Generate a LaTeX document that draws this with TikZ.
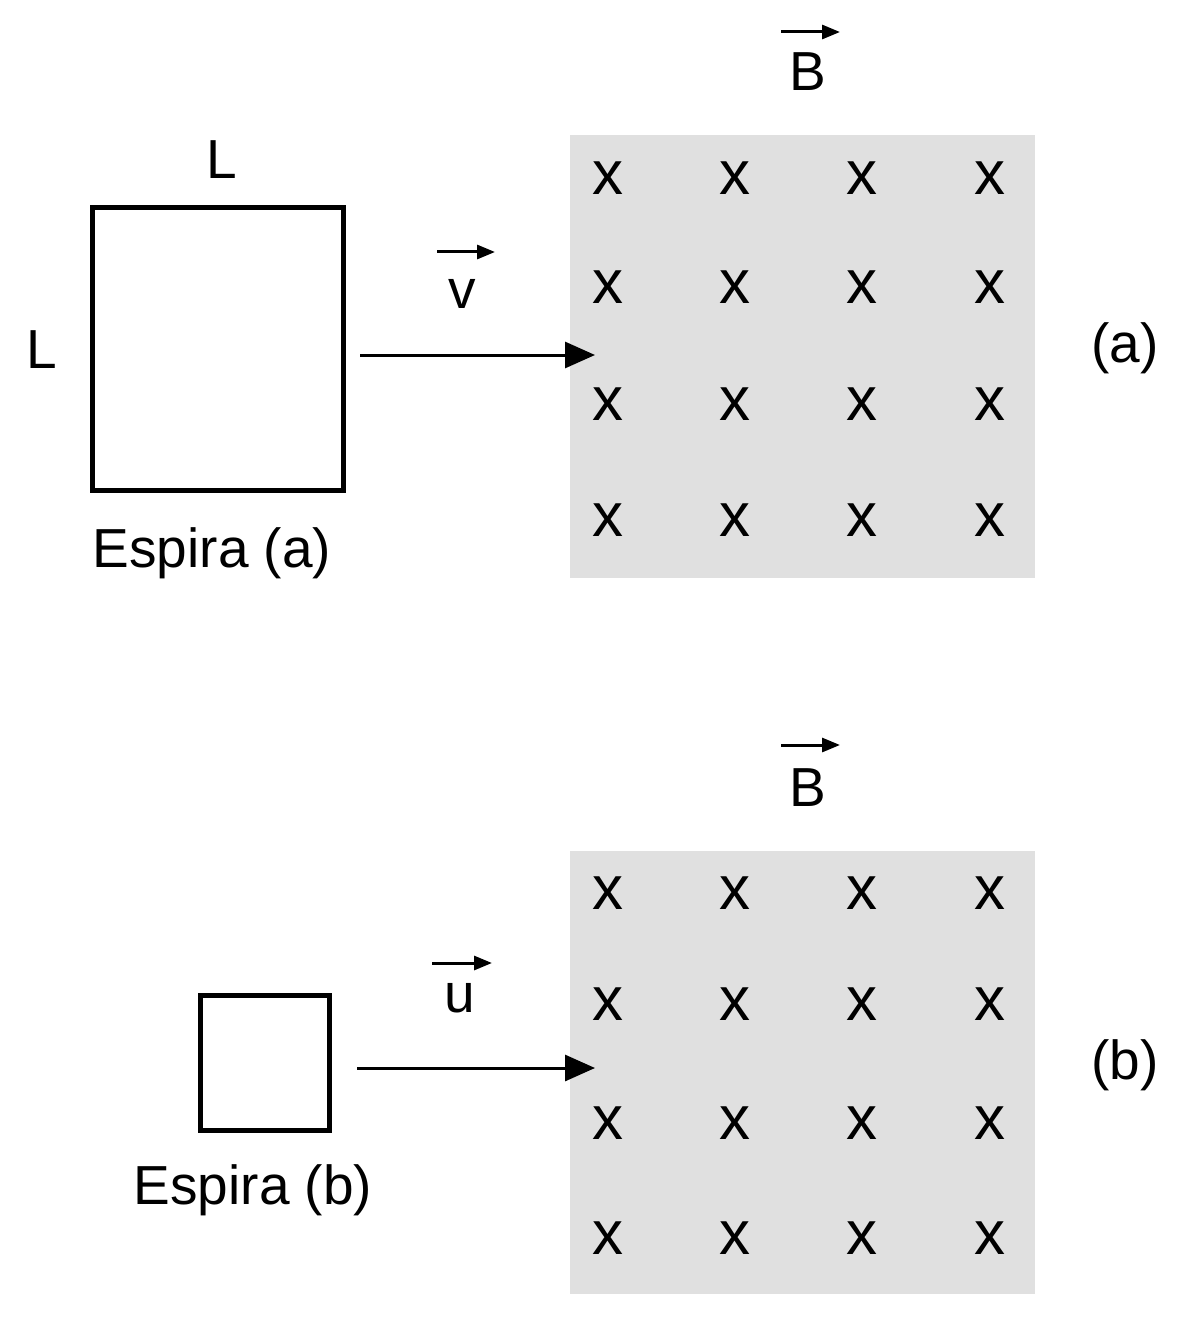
\documentclass[tikz,border=0pt]{standalone}
\usepackage{fontspec}
\setmainfont{Liberation Sans}
\usetikzlibrary{arrows.meta}
\begin{document}
\begin{tikzpicture}[x=1pt,y=-1pt,
  lab/.style={font=\fontsize{55}{57}\selectfont},
  cross/.style={font=\fontsize{62}{64}\selectfont},
  loop/.style={line width=5pt},
  vel/.style={line width=3pt,-{Triangle[length=30pt,width=26pt]}},
  vec/.style={line width=3pt,-{Triangle[length=18pt,width=14pt]}},
  field/.style={fill=black!12,draw=none}]
\useasboundingbox (0,0) rectangle (1188,1324);
% (a)
\draw[loop] (92,208) rectangle (343,490);
\node[lab] (La) at (222,160) {L};
\node[lab] (Lb) at (42,350) {L};
\node[lab] (ea) at (212,553) {Espira (a)};
\fill[field] (570,135) rectangle (1035,578);
\foreach \x in {608,735,862,990}\foreach \y in {178,287,404,520}{\node[cross] at (\x,\y) {x};}
\coordinate (a1) at (360,355); \coordinate (a2) at (595,355);
\draw[vel] (a1) -- (a2);
\node[lab] (v) at (462,294) {v};
\draw[vec] (437,252) -- (495,252);
\node[lab] (B1) at (808,72) {B};
\draw[vec] (781,32) -- (840,32);
\node[lab] (pa) at (1125,348) {(a)};
% (b)
\draw[loop] (200,995) rectangle (329,1130);
\node[lab] (eb) at (253,1190) {Espira (b)};
\fill[field] (570,851) rectangle (1035,1294);
\foreach \x in {608,735,862,990}\foreach \y in {893,1004,1123,1238}{\node[cross] at (\x,\y) {x};}
\coordinate (b1) at (357,1068); \coordinate (b2) at (595,1068);
\draw[vel] (b1) -- (b2);
\node[lab] (u) at (460,998) {u};
\draw[vec] (432,963) -- (492,963);
\node[lab] (B2) at (808,788) {B};
\draw[vec] (781,745) -- (840,745);
\node[lab] (pb) at (1125,1065) {(b)};
\end{tikzpicture}
\end{document}
